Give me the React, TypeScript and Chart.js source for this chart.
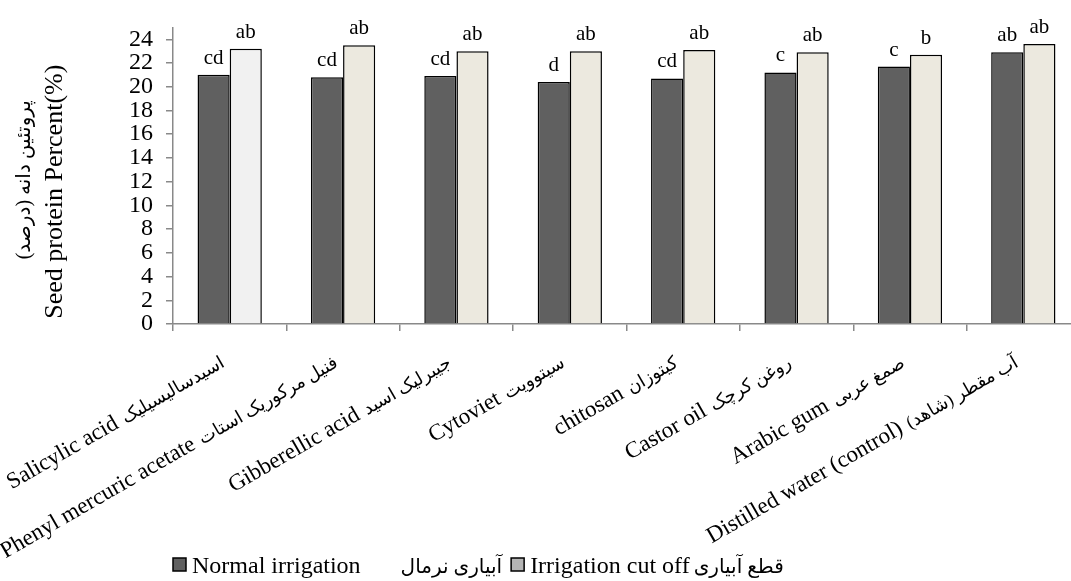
import React, { useEffect, useRef } from 'react';
import { Chart, registerables } from 'chart.js';

Chart.register(...registerables);

const categoriesEn = ['Salicylic acid', 'Phenyl mercuric acetate', 'Gibberellic acid', 'Cytoviet', 'chitosan', 'Castor oil', 'Arabic gum', 'Distilled water (control)'];
const categoriesFa = ['اسیدسالیسیلیک', 'فنیل مرکوریک استات', 'جیبرلیک اسید', 'سیتوویت', 'کیتوزان', 'روغن کرچک', 'صمغ عربی', 'آب مقطر (شاهد)'];
const normalIrrigation = [21.0, 20.8, 20.9, 20.4, 20.7, 21.2, 21.7, 22.9];
const irrigationCutOff = [23.2, 23.5, 23.0, 23.0, 23.1, 22.9, 22.7, 23.6];
const normalLetters = ['cd', 'cd', 'cd', 'd', 'cd', 'c', 'c', 'ab'];
const cutOffLetters = ['ab', 'ab', 'ab', 'ab', 'ab', 'ab', 'b', 'ab'];
const seriesEn = ['Normal irrigation', 'Irrigation cut off'];
const seriesFa = ['آبیاری نرمال', 'قطع آبیاری'];
const yTitleEn = 'Seed protein Percent(%)';
const yTitleFa = 'پروتئین دانه (درصد)';
const yTicks = [0, 2, 4, 6, 8, 10, 12, 14, 16, 18, 20, 22, 24];

const SERIF = '"Liberation Serif", "Times New Roman", serif';
const FA = '"Liberation Serif", "DejaVu Sans", serif';

const W = 1100;
const H = 581;

const customPlugin = {
  id: 'custom',
  afterDatasetsDraw(chart: any) {
    const ctx = chart.ctx;
    const letters = [normalLetters, cutOffLetters];
    ctx.save();
    ctx.fillStyle = '#000';
    ctx.font = `21px ${SERIF}`;
    ctx.textAlign = 'center';
    ctx.textBaseline = 'alphabetic';
    [0, 1].forEach((d) => {
      const meta = chart.getDatasetMeta(d);
      meta.data.forEach((el: any, i: number) => {
        ctx.fillText(letters[d][i], el.x, el.y - 11);
      });
    });
    ctx.restore();
  },
  afterDraw(chart: any) {
    const ctx = chart.ctx;
    const area = chart.chartArea;
    const xs = chart.scales.x;
    ctx.save();
    ctx.fillStyle = '#000';
    // x category labels
    categoriesEn.forEach((en, i) => {
      const x = xs.getPixelForValue(i);
      ctx.save();
      ctx.translate(x - 4, area.bottom + 42);
      ctx.rotate(-Math.PI / 6);
      ctx.textBaseline = 'alphabetic';
      ctx.font = `18px ${FA}`;
      ctx.direction = 'rtl';
      ctx.textAlign = 'right';
      ctx.fillText(categoriesFa[i], 0, 0);
      const wFa = ctx.measureText(categoriesFa[i]).width;
      ctx.direction = 'ltr';
      ctx.font = `23px ${SERIF}`;
      ctx.textAlign = 'right';
      ctx.fillText(en, -(wFa + 7), 0);
      ctx.restore();
    });
    // y title
    const cy = (area.top + area.bottom) / 2;
    ctx.save();
    ctx.translate(55, cy + 16);
    ctx.rotate(-Math.PI / 2);
    ctx.font = `26px ${SERIF}`;
    ctx.textAlign = 'center';
    ctx.textBaseline = 'middle';
    ctx.fillText(yTitleEn, 0, 0);
    ctx.restore();
    ctx.save();
    ctx.translate(25, cy + 4);
    ctx.rotate(-Math.PI / 2);
    ctx.font = `20px ${FA}`;
    ctx.direction = 'rtl';
    ctx.textAlign = 'center';
    ctx.textBaseline = 'middle';
    ctx.fillText(yTitleFa, 0, 0);
    ctx.restore();
    // legend
    const swatchColors = ['#606060', '#b5b5b5'];
    let lx = area.left;
    const base = 573;
    [0, 1].forEach((d) => {
      ctx.fillStyle = swatchColors[d];
      ctx.fillRect(lx, 558, 13, 13);
      ctx.strokeStyle = '#000';
      ctx.lineWidth = 1.5;
      ctx.strokeRect(lx, 558, 13, 13);
      lx += 19;
      ctx.fillStyle = '#000';
      ctx.font = `24px ${SERIF}`;
      ctx.direction = 'ltr';
      ctx.textAlign = 'left';
      ctx.textBaseline = 'alphabetic';
      ctx.fillText(seriesEn[d], lx, base);
      lx += ctx.measureText(seriesEn[d]).width + (d === 0 ? 40 : 4);
      ctx.font = `20px ${FA}`;
      ctx.direction = 'rtl';
      ctx.textAlign = 'left';
      const wf = ctx.measureText(seriesFa[d]).width;
      ctx.textAlign = 'right';
      ctx.fillText(seriesFa[d], lx + wf, base);
      lx += wf + 9;
    });
    ctx.restore();
  },
};

export default function App() {
  const ref = useRef<HTMLCanvasElement | null>(null);
  useEffect(() => {
    if (!ref.current) return;
    const chart = new Chart(ref.current, {
      type: 'bar',
      data: {
        labels: categoriesEn.map((e, i) => `${e} ${categoriesFa[i]}`),
        datasets: [
          {
            label: seriesEn[0],
            data: normalIrrigation,
            backgroundColor: '#606060',
            borderColor: '#000',
            borderWidth: 1.5,
            categoryPercentage: 0.567,
            barPercentage: 1,
          },
          {
            label: seriesEn[1],
            data: irrigationCutOff,
            backgroundColor: (c: any) => (c.dataIndex === 0 ? '#f1f1f1' : '#ece9df'),
            borderColor: '#000',
            borderWidth: 1.5,
            categoryPercentage: 0.567,
            barPercentage: 1,
          },
        ],
      },
      options: {
        responsive: false,
        animation: false,
        layout: { padding: { left: 0, right: W - 1080, top: 26, bottom: 0 } },
        plugins: {
          legend: { display: false },
          tooltip: { enabled: false },
          title: { display: false },
        },
        scales: {
          x: {
            ticks: { display: false },
            grid: {
              drawOnChartArea: false,
              drawTicks: true,
              tickLength: 7,
              color: '#898989',
              lineWidth: 1.5,
              offset: true,
            },
            border: { color: '#898989', width: 1.5 },
            afterFit: (s: any) => {
              s.height = H - 324;
            },
          },
          y: {
            min: 0,
            max: 25,
            ticks: {
              stepSize: 2,
              autoSkip: false,
              color: '#000',
              font: { family: SERIF, size: 24 },
              padding: 13,
            },
            afterBuildTicks: (s: any) => {
              s.ticks = yTicks.map((v) => ({ value: v }));
            },
            grid: {
              drawOnChartArea: false,
              drawTicks: true,
              tickLength: 7,
              color: '#898989',
              lineWidth: 1.5,
            },
            border: { color: '#898989', width: 1.5 },
            afterFit: (s: any) => {
              s.width = 173;
            },
          },
        },
      },
      plugins: [customPlugin],
    });
    return () => chart.destroy();
  }, []);
  return (
    <div style={{ position: 'fixed', left: 0, top: 0, width: 1071, height: 581, overflow: 'hidden', background: '#fff' }}>
      <canvas ref={ref} width={W} height={H} style={{ display: 'block' }} />
    </div>
  );
}
